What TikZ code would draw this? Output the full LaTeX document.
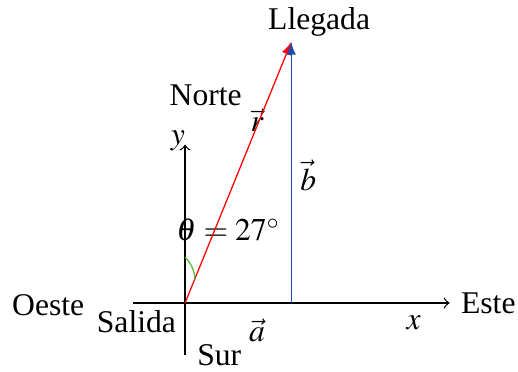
\documentclass[tikz,border=0pt]{standalone}
\usepackage{amsmath}
\usepackage{mathptmx}
\usepackage{fontspec}
\setmainfont{Liberation Serif}
\usetikzlibrary{arrows}
\definecolor{vecblue}{RGB}{35,75,170}
\definecolor{anglegreen}{RGB}{90,185,60}

\begin{document}
\begin{tikzpicture}[x=1cm,y=1cm]
  \useasboundingbox (-2.056,-0.756) rectangle (3.7,3.367);
  \coordinate (O) at (0,0);
  \coordinate (xl) at (-0.58,0);
  \coordinate (xr) at (2.94,0);
  \coordinate (yb) at (0,-0.58);
  \coordinate (yt) at (0,1.76);
  \coordinate (A) at (1.18,0);
  \coordinate (B) at (1.18,2.9);
  \coordinate (th) at (0,0.51);
 \begin{scope}[every node/.style={inner sep=1pt}]
  \node (llegada) at (1.49,3.12) {Llegada};
  \node (norte) at (0.23,2.31) {Norte};
  \node (r) at (0.8,2.03) {$\vec{r}$};
  \node (y) at (-0.08,1.8) {$y$};
  \node (b) at (1.37,1.42) {$\vec{b}$};
  \node (theta) at (0.48,0.81) {$\theta = 27^\circ$};
  \node (oeste) at (-1.52,-0.02) {Oeste};
  \node (salida) at (-0.54,-0.21) {Salida};
  \node (este) at (3.37,0.0) {Este};
  \node (x) at (2.54,-0.22) {$x$};
  \node (a) at (0.8,-0.3) {$\vec{a}$};
  \node (sur) at (0.38,-0.58) {Sur};
 \end{scope}
  \path [->] (xl) edge (xr);
  \path [->] (yb) edge (yt);
  \path [-latex, red] (O) edge (B);
  \path [-latex, vecblue] (A) edge (B);
  \draw [anglegreen] (th) arc (46:1:0.362);
 \end{tikzpicture}
\end{document}
